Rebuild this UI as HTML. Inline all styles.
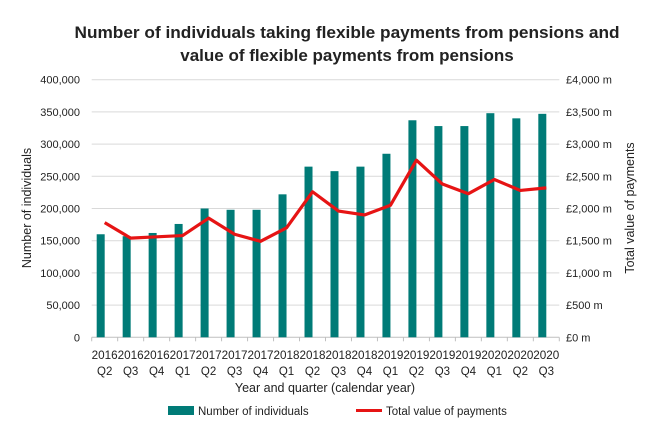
<!DOCTYPE html>
<html><head><meta charset="utf-8"><style>
body{margin:0;background:#fff}
svg text{font-family:"Liberation Sans",sans-serif;fill:#222}
</style></head><body>
<svg width="650" height="434" viewBox="0 0 650 434">
<text x="347" y="38" text-anchor="middle" font-size="17" font-weight="bold" fill="#000" textLength="545" lengthAdjust="spacingAndGlyphs">Number of individuals taking flexible payments from pensions and</text>
<text x="347" y="61" text-anchor="middle" font-size="17" font-weight="bold" fill="#000">value of flexible payments from pensions</text>
<g id="g"></g>
<text transform="translate(31,208) rotate(-90)" text-anchor="middle" font-size="12.5">Number of individuals</text>
<text transform="translate(634,208) rotate(-90)" text-anchor="middle" font-size="12.5">Total value of payments</text>
<text x="325" y="392" text-anchor="middle" font-size="12.5">Year and quarter (calendar year)</text>
<rect x="168" y="406" width="26" height="9" fill="#007B77"/>
<text x="198" y="415" font-size="11.5">Number of individuals</text>
<line x1="356" y1="410.5" x2="382" y2="410.5" stroke="#e61414" stroke-width="3"/>
<text x="386" y="415" font-size="11.5">Total value of payments</text>
</svg>
<script>
var g=document.getElementById('g'),s='';
var L=91.7,R=559.3,T=79.7,B=337.3,n=18,w=(R-L)/n;
function Y(v,m){return B-v/m*(B-T);}
for(var i=0;i<=8;i++){var y=B-i*(B-T)/8;
 if(i>0)s+='<line x1="'+L+'" x2="'+R+'" y1="'+y+'" y2="'+y+'" stroke="#d9d9d9"/>';
 s+='<text x="80" y="'+(y+4)+'" text-anchor="end" font-size="11">'+(i==0?'0':(i*50)+',000')+'</text>';
 s+='<text x="566" y="'+(y+4)+'" font-size="11">£'+(i*500).toLocaleString('en-GB')+' m</text>';}
s+='<line x1="'+L+'" x2="'+R+'" y1="'+B+'" y2="'+B+'" stroke="#bfbfbf"/>';
var nb=[160,157,162,176,200,198,198,222,265,258,265,285,337,328,328,348,340,347];
var lv=[1780,1540,1560,1580,1850,1600,1490,1700,2260,1960,1900,2050,2750,2380,2230,2450,2280,2320];
var lab=['2016 Q2','2016 Q3','2016 Q4','2017 Q1','2017 Q2','2017 Q3','2017 Q4','2018 Q1','2018 Q2','2018 Q3','2018 Q4','2019 Q1','2019 Q2','2019 Q3','2019 Q4','2020 Q1','2020 Q2','2020 Q3'];
var pts=[];
for(var i=0;i<n;i++){var c=L+(i+.5)*w,y=Y(nb[i]*1000,400000);
 s+='<rect x="'+(c-8)+'" y="'+y+'" width="8" height="'+(B-y)+'" fill="#007B77"/>';
 s+='<line x1="'+(L+i*w)+'" x2="'+(L+i*w)+'" y1="'+B+'" y2="'+(B+4)+'" stroke="#bfbfbf"/>';
 var p=lab[i].split(' ');
 s+='<text x="'+c+'" y="359" text-anchor="middle" font-size="11.5" textLength="'+w+'" lengthAdjust="spacingAndGlyphs">'+p[0]+'</text>';
 s+='<text x="'+c+'" y="375" text-anchor="middle" font-size="11.5">'+p[1]+'</text>';
 pts.push(c+','+Y(lv[i],4000));}
s+='<line x1="'+R+'" x2="'+R+'" y1="'+B+'" y2="'+(B+4)+'" stroke="#bfbfbf"/>';
s+='<polyline points="'+pts.join(' ')+'" fill="none" stroke="#e61414" stroke-width="3.2" stroke-linejoin="round"/>';
g.innerHTML=s;
</script>
</body></html>
